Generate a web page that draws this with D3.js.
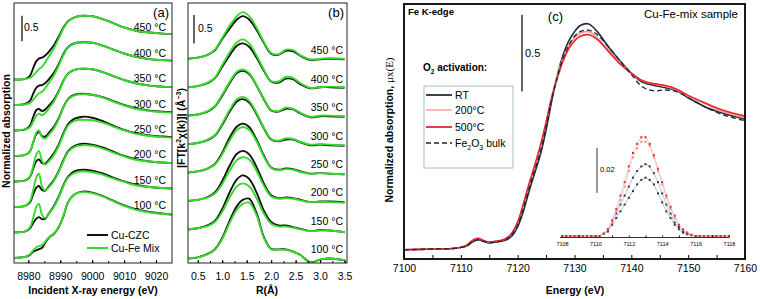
<!DOCTYPE html>
<html><head><meta charset="utf-8">
<script src="https://cdnjs.cloudflare.com/ajax/libs/d3/7.8.5/d3.min.js"></script>
<style>
body{margin:0;background:#fff}
svg{display:block}
text{font-family:"Liberation Sans",Arial,sans-serif;fill:#000}
</style>
</head><body>
<svg id="chart" width="760" height="299"></svg>
<script>
// ---------------- DATA ----------------
const temperatures = ["100 °C", "150 °C", "200 °C", "250 °C", "300 °C", "350 °C", "400 °C", "450 °C"];
const seriesAB = ["Cu-CZC", "Cu-Fe Mix"];

// (a) Cu K-edge XANES
const xanesEnergy = [8975.5, 8979, 8980.5, 8981.5, 8982.5, 8983.3, 8984.3, 8985.3, 8986.5, 8988, 8989.5, 8991, 8992.5, 8994.5, 8997, 9000, 9003, 9006, 9010, 9014, 9018, 9022, 9025];
const czcXanes = [
  [0, 0.02, 0.06, 0.12, 0.15, 0.17, 0.2, 0.3, 0.4, 0.47, 0.6, 0.82, 1.1, 1.25, 1.3, 1.28, 1.22, 1.14, 1.03, 0.95, 0.9, 0.87, 0.85],
  [0, 0.02, 0.08, 0.18, 0.27, 0.3, 0.26, 0.27, 0.38, 0.52, 0.7, 0.93, 1.1, 1.2, 1.23, 1.21, 1.16, 1.09, 1.0, 0.93, 0.89, 0.87, 0.86],
  [0, 0.02, 0.09, 0.24, 0.38, 0.41, 0.33, 0.32, 0.41, 0.53, 0.7, 0.92, 1.1, 1.2, 1.24, 1.22, 1.17, 1.1, 1.0, 0.93, 0.89, 0.87, 0.86],
  [0, 0.02, 0.09, 0.25, 0.4, 0.43, 0.36, 0.35, 0.43, 0.55, 0.72, 0.95, 1.13, 1.23, 1.27, 1.25, 1.19, 1.11, 1.01, 0.94, 0.9, 0.88, 0.87],
  [0, 0.02, 0.09, 0.26, 0.43, 0.47, 0.39, 0.38, 0.46, 0.57, 0.74, 0.96, 1.12, 1.2, 1.22, 1.2, 1.16, 1.09, 1.0, 0.93, 0.89, 0.87, 0.86],
  [0, 0.02, 0.09, 0.26, 0.4, 0.42, 0.38, 0.41, 0.49, 0.6, 0.77, 0.98, 1.12, 1.19, 1.21, 1.2, 1.15, 1.08, 0.99, 0.92, 0.88, 0.86, 0.85],
  [0, 0.02, 0.08, 0.22, 0.34, 0.38, 0.39, 0.43, 0.51, 0.63, 0.8, 1.0, 1.14, 1.21, 1.23, 1.22, 1.17, 1.1, 1.01, 0.94, 0.9, 0.88, 0.87],
  [0, 0.01, 0.07, 0.22, 0.36, 0.41, 0.43, 0.47, 0.55, 0.67, 0.84, 1.02, 1.15, 1.22, 1.25, 1.24, 1.19, 1.12, 1.02, 0.95, 0.92, 0.9, 0.89]
];
const mixXanes = [
  [0, 0.02, 0.07, 0.15, 0.21, 0.23, 0.25, 0.32, 0.41, 0.48, 0.61, 0.83, 1.1, 1.25, 1.29, 1.27, 1.21, 1.13, 1.02, 0.94, 0.89, 0.86, 0.85],
  [0, 0.02, 0.1, 0.28, 0.5, 0.56, 0.34, 0.28, 0.37, 0.5, 0.68, 0.91, 1.08, 1.17, 1.2, 1.18, 1.14, 1.07, 0.99, 0.92, 0.89, 0.87, 0.86],
  [0, 0.02, 0.11, 0.33, 0.58, 0.65, 0.4, 0.32, 0.39, 0.51, 0.68, 0.9, 1.08, 1.18, 1.21, 1.2, 1.15, 1.08, 0.99, 0.92, 0.89, 0.87, 0.86],
  [0, 0.02, 0.1, 0.3, 0.53, 0.6, 0.4, 0.33, 0.4, 0.52, 0.69, 0.92, 1.1, 1.19, 1.21, 1.2, 1.16, 1.09, 1.0, 0.93, 0.89, 0.87, 0.86],
  [0, 0.02, 0.09, 0.27, 0.46, 0.5, 0.37, 0.34, 0.42, 0.54, 0.72, 0.95, 1.11, 1.19, 1.21, 1.2, 1.15, 1.08, 0.99, 0.92, 0.88, 0.86, 0.85],
  [0, 0.02, 0.06, 0.17, 0.29, 0.33, 0.3, 0.34, 0.44, 0.57, 0.75, 0.97, 1.12, 1.19, 1.21, 1.2, 1.15, 1.08, 0.99, 0.92, 0.88, 0.86, 0.85],
  [0, 0.01, 0.04, 0.1, 0.18, 0.23, 0.26, 0.33, 0.44, 0.58, 0.77, 0.98, 1.13, 1.21, 1.23, 1.22, 1.17, 1.1, 1.01, 0.94, 0.9, 0.88, 0.87],
  [0, 0.01, 0.03, 0.08, 0.15, 0.2, 0.25, 0.34, 0.46, 0.61, 0.8, 1.0, 1.14, 1.22, 1.25, 1.24, 1.19, 1.12, 1.02, 0.95, 0.92, 0.9, 0.89]
];
const xanesTicks = [8980, 8990, 9000, 9010, 9020];

// (b) FT-EXAFS
const ftR = [0.3, 0.5, 0.7, 0.85, 1.0, 1.15, 1.3, 1.42, 1.55, 1.7, 1.85, 2.0, 2.15, 2.3, 2.45, 2.6, 2.8, 3.0, 3.2, 3.5];
const czcFT = [
  [0.04, 0.06, 0.12, 0.2, 0.4, 0.7, 0.96, 1.07, 1.09, 0.84, 0.42, 0.21, 0.2, 0.2, 0.16, 0.1, -0.03, 0.02, 0.04, 0.01],
  [0.05, 0.07, 0.12, 0.2, 0.41, 0.7, 0.93, 1.0, 0.94, 0.7, 0.38, 0.18, 0.12, 0.12, 0.09, 0.06, 0.02, 0.04, 0.03, 0.0],
  [0.05, 0.07, 0.12, 0.2, 0.4, 0.67, 0.88, 0.93, 0.87, 0.65, 0.36, 0.15, 0.1, 0.11, 0.1, 0.07, 0.03, 0.04, 0.04, 0.03],
  [0.05, 0.07, 0.12, 0.2, 0.4, 0.66, 0.86, 0.91, 0.85, 0.63, 0.35, 0.14, 0.1, 0.12, 0.11, 0.07, 0.03, 0.04, 0.03, 0.02],
  [0.05, 0.07, 0.12, 0.2, 0.39, 0.62, 0.8, 0.84, 0.78, 0.58, 0.33, 0.13, 0.1, 0.13, 0.13, 0.08, 0.03, 0.04, 0.03, 0.02],
  [0.05, 0.07, 0.12, 0.21, 0.4, 0.62, 0.8, 0.84, 0.78, 0.58, 0.34, 0.14, 0.12, 0.17, 0.16, 0.09, 0.02, 0.04, 0.04, 0.03],
  [0.05, 0.07, 0.12, 0.21, 0.41, 0.61, 0.78, 0.82, 0.76, 0.57, 0.34, 0.15, 0.13, 0.2, 0.19, 0.1, 0.03, 0.05, 0.05, 0.04],
  [0.05, 0.07, 0.12, 0.2, 0.4, 0.58, 0.74, 0.8, 0.74, 0.56, 0.33, 0.14, 0.12, 0.19, 0.18, 0.1, 0.03, 0.04, 0.05, 0.04]
];
const mixFT = [
  [0.04, 0.06, 0.11, 0.19, 0.38, 0.66, 0.9, 1.0, 1.02, 0.8, 0.4, 0.2, 0.2, 0.19, 0.16, 0.1, -0.04, 0.02, 0.04, 0.01],
  [0.05, 0.07, 0.11, 0.18, 0.36, 0.61, 0.81, 0.86, 0.81, 0.6, 0.33, 0.15, 0.1, 0.1, 0.08, 0.05, 0.02, 0.03, 0.03, 0.0],
  [0.05, 0.07, 0.11, 0.18, 0.35, 0.58, 0.77, 0.82, 0.78, 0.58, 0.32, 0.13, 0.09, 0.1, 0.09, 0.06, 0.03, 0.04, 0.03, 0.02],
  [0.05, 0.07, 0.12, 0.19, 0.37, 0.61, 0.8, 0.85, 0.8, 0.6, 0.33, 0.13, 0.09, 0.11, 0.1, 0.06, 0.03, 0.04, 0.03, 0.02],
  [0.05, 0.07, 0.13, 0.21, 0.41, 0.65, 0.84, 0.88, 0.81, 0.6, 0.34, 0.14, 0.11, 0.15, 0.14, 0.09, 0.04, 0.05, 0.04, 0.03],
  [0.05, 0.07, 0.13, 0.22, 0.42, 0.64, 0.82, 0.86, 0.8, 0.59, 0.35, 0.15, 0.13, 0.19, 0.17, 0.1, 0.03, 0.05, 0.05, 0.04],
  [0.05, 0.07, 0.13, 0.22, 0.44, 0.66, 0.84, 0.89, 0.82, 0.61, 0.36, 0.16, 0.15, 0.23, 0.21, 0.12, 0.04, 0.05, 0.06, 0.05],
  [0.05, 0.07, 0.12, 0.21, 0.42, 0.63, 0.8, 0.87, 0.8, 0.6, 0.35, 0.15, 0.13, 0.21, 0.2, 0.11, 0.04, 0.05, 0.06, 0.05]
];
const ftTicks = [0.5, 1.0, 1.5, 2.0, 2.5, 3.0, 3.5];

// (c) Fe K-edge XANES
const feSeries = ["RT", "200°C", "500°C", "Fe2O3 bulk"];
const feEnergy = [7100, 7105, 7109, 7111, 7112, 7113, 7114, 7115, 7116, 7117, 7118, 7119, 7120, 7121, 7122, 7123, 7124, 7125, 7126, 7127, 7128, 7129, 7130, 7131, 7132.5, 7134, 7136, 7138, 7140, 7142, 7144, 7146, 7148, 7150, 7153, 7156, 7160];
const feRT = [0.0, 0.005, 0.01, 0.025, 0.05, 0.065, 0.055, 0.045, 0.05, 0.055, 0.065, 0.09, 0.15, 0.25, 0.38, 0.5, 0.62, 0.78, 0.97, 1.14, 1.27, 1.36, 1.42, 1.46, 1.47, 1.42, 1.32, 1.23, 1.15, 1.09, 1.07, 1.055, 1.035, 0.99, 0.93, 0.89, 0.85];
const fe200 = [0.0, 0.005, 0.01, 0.03, 0.06, 0.075, 0.06, 0.05, 0.055, 0.06, 0.075, 0.11, 0.18, 0.29, 0.42, 0.54, 0.67, 0.83, 1.0, 1.14, 1.25, 1.33, 1.38, 1.41, 1.42, 1.38, 1.3, 1.22, 1.15, 1.1, 1.08, 1.065, 1.04, 1.0, 0.95, 0.9, 0.86];
const fe500 = [0.0, 0.005, 0.01, 0.03, 0.06, 0.075, 0.06, 0.05, 0.055, 0.06, 0.075, 0.11, 0.18, 0.3, 0.43, 0.55, 0.68, 0.83, 0.99, 1.12, 1.23, 1.31, 1.36, 1.39, 1.4, 1.37, 1.29, 1.21, 1.15, 1.1, 1.08, 1.07, 1.045, 1.005, 0.955, 0.91, 0.87];
const feBulk = [0.0, 0.005, 0.01, 0.025, 0.05, 0.065, 0.055, 0.045, 0.05, 0.055, 0.065, 0.1, 0.16, 0.27, 0.4, 0.52, 0.64, 0.8, 0.98, 1.13, 1.25, 1.33, 1.39, 1.42, 1.43, 1.4, 1.32, 1.23, 1.14, 1.06, 1.035, 1.04, 1.03, 0.99, 0.93, 0.88, 0.84];
const feTicks = [7100, 7110, 7120, 7130, 7140, 7150, 7160];

// (c) inset: pre-edge
const preEnergy = [7108, 7108.25, 7108.5, 7108.75, 7109, 7109.25, 7109.5, 7109.75, 7110, 7110.25, 7110.5, 7110.75, 7111, 7111.25, 7111.5, 7111.75, 7112, 7112.25, 7112.5, 7112.75, 7113, 7113.25, 7113.5, 7113.75, 7114, 7114.25, 7114.5, 7114.75, 7115, 7115.25, 7115.5, 7115.75, 7116, 7116.25, 7116.5, 7116.75, 7117, 7117.25, 7117.5, 7117.75, 7118];
const preRT = [0, 0, 0, 0, 0, 0, 0, 0, 0, 0, 0.001, 0.003, 0.006, 0.01, 0.014, 0.018, 0.022, 0.026, 0.029, 0.031, 0.032, 0.031, 0.028, 0.024, 0.019, 0.014, 0.01, 0.006, 0.004, 0.002, 0.001, 0.0005, 0, 0, 0, 0, 0, 0, 0, 0, 0];
const pre200 = [0, 0, 0, 0, 0, 0, 0, 0, 0, 0, 0.001, 0.003, 0.006, 0.011, 0.016, 0.022, 0.029, 0.035, 0.039, 0.042, 0.042, 0.04, 0.035, 0.029, 0.023, 0.017, 0.012, 0.008, 0.005, 0.003, 0.0015, 0.0005, 0, 0, 0, 0, 0, 0, 0, 0, 0];
const pre500 = [0, 0, 0, 0, 0, 0, 0, 0, 0, 0, 0.001, 0.003, 0.007, 0.012, 0.018, 0.024, 0.031, 0.037, 0.041, 0.044, 0.044, 0.041, 0.036, 0.03, 0.024, 0.018, 0.013, 0.009, 0.005, 0.003, 0.0015, 0.0005, 0, 0, 0, 0, 0, 0, 0, 0, 0];
const preBulk = [0, 0, 0, 0, 0, 0, 0, 0, 0, 0, 0.001, 0.002, 0.005, 0.008, 0.011, 0.014, 0.017, 0.02, 0.023, 0.025, 0.026, 0.025, 0.023, 0.019, 0.015, 0.011, 0.008, 0.005, 0.003, 0.0015, 0.0008, 0.0003, 0, 0, 0, 0, 0, 0, 0, 0, 0];
const preTicks = [7108, 7110, 7112, 7114, 7116, 7118];

const stackStep = 0.5;

// ---------------- DRAW ----------------
const svg = d3.select("#chart");
const BLACK = "#111", GREEN = "#36dc2a";
const cRT = "#22303f", c200 = "#f39a9a", c500 = "#e8262b", cBulk = "#1b2633";

const defs = svg.append("defs");
function clip(id, x, y, w, h){ defs.append("clipPath").attr("id", id).append("rect").attr("x", x).attr("y", y).attr("width", w).attr("height", h); }

// ===== Panel (a) =====
const xA = d3.scaleLinear().domain([8975.5, 9025]).range([14, 172]);
const yA = d3.scaleLinear().domain([-0.1, 5.0]).range([263, 3]);
clip("ca", 14, 3, 158, 260);
const gA = svg.append("g");
const lineA = d3.line().x(d => xA(d[0])).y(d => yA(d[1])).curve(d3.curveCatmullRom.alpha(0.5));
const curvesA = gA.append("g").attr("clip-path", "url(#ca)");
temperatures.forEach((t, i) => {
  const off = i * stackStep;
  curvesA.append("path").attr("d", lineA(xanesEnergy.map((e, j) => [e, czcXanes[i][j] + off])))
    .attr("fill", "none").attr("stroke", BLACK).attr("stroke-width", 1.9);
  curvesA.append("path").attr("d", lineA(xanesEnergy.map((e, j) => [e, mixXanes[i][j] + off])))
    .attr("fill", "none").attr("stroke", GREEN).attr("stroke-width", 1.9);
  gA.append("text").attr("x", 166).attr("y", yA(off + 0.95)).attr("text-anchor", "end")
    .attr("font-size", 10.5).text(t);
});
gA.append("rect").attr("x", 14).attr("y", 3).attr("width", 158).attr("height", 260)
  .attr("fill", "none").attr("stroke", "#222").attr("stroke-width", 1);
const axA = gA.append("g").attr("transform", "translate(0,263)")
  .call(d3.axisBottom(xA).tickValues(xanesTicks).tickFormat(d3.format("d")).tickSize(-3).tickPadding(10));
axA.select(".domain").remove();
axA.selectAll("text").attr("font-size", 10.5).attr("font-family", "Liberation Sans, Arial, sans-serif");
gA.append("g").attr("transform", "translate(0,263)")
  .call(d3.axisBottom(xA).tickValues(d3.range(8980, 9025, 5)).tickFormat("").tickSize(-2))
  .select(".domain").remove();
// scale bar
gA.append("line").attr("x1", 22).attr("x2", 22).attr("y1", yA(4.25)).attr("y2", yA(4.25 + stackStep))
  .attr("stroke", "#000").attr("stroke-width", 1.2);
gA.append("text").attr("x", 24).attr("y", 31).attr("font-size", 10.5).text("0.5");
gA.append("text").attr("x", 169).attr("y", 17).attr("text-anchor", "end").attr("font-size", 13).text("(a)");
gA.append("text").attr("transform", "translate(10,131) rotate(-90)").attr("text-anchor", "middle")
  .attr("font-size", 10.5).attr("font-weight", "bold").text("Normalized absorption");
gA.append("text").attr("x", 93).attr("y", 294).attr("text-anchor", "middle")
  .attr("font-size", 10.5).attr("font-weight", "bold").text("Incident X-ray energy (eV)");
// legend (a)
[[BLACK, seriesAB[0], 235], [GREEN, seriesAB[1], 248]].forEach(([c, s, y]) => {
  gA.append("line").attr("x1", 87).attr("x2", 108).attr("y1", y).attr("y2", y).attr("stroke", c).attr("stroke-width", 2);
  gA.append("text").attr("x", 111).attr("y", y + 4).attr("font-size", 10.5).text(s);
});

// ===== Panel (b) =====
const xB = d3.scaleLinear().domain([0.3, 3.55]).range([188, 347]);
const yB = d3.scaleLinear().domain([-0.04, 4.53]).range([263, 3]);
clip("cb", 188, 3, 159, 260);
const gB = svg.append("g");
const lineB = d3.line().x(d => xB(d[0])).y(d => yB(d[1])).curve(d3.curveCatmullRom.alpha(0.5));
const curvesB = gB.append("g").attr("clip-path", "url(#cb)");
temperatures.forEach((t, i) => {
  const off = i * stackStep;
  curvesB.append("path").attr("d", lineB(ftR.map((r, j) => [r, czcFT[i][j] + off])))
    .attr("fill", "none").attr("stroke", BLACK).attr("stroke-width", 1.9);
  curvesB.append("path").attr("d", lineB(ftR.map((r, j) => [r, mixFT[i][j] + off])))
    .attr("fill", "none").attr("stroke", GREEN).attr("stroke-width", 1.9);
  gB.append("text").attr("x", 343).attr("y", yB(off + 0.13)).attr("text-anchor", "end")
    .attr("font-size", 10.5).text(t);
});
gB.append("rect").attr("x", 188).attr("y", 3).attr("width", 159).attr("height", 260)
  .attr("fill", "none").attr("stroke", "#222").attr("stroke-width", 1);
const axB = gB.append("g").attr("transform", "translate(0,263)")
  .call(d3.axisBottom(xB).tickValues(ftTicks).tickFormat(d3.format(".1f")).tickSize(-3).tickPadding(10));
axB.select(".domain").remove();
axB.selectAll("text").attr("font-size", 10.5).attr("font-family", "Liberation Sans, Arial, sans-serif");
gB.append("g").attr("transform", "translate(0,263)")
  .call(d3.axisBottom(xB).tickValues(d3.range(0.5, 3.51, 0.25)).tickFormat("").tickSize(-2))
  .select(".domain").remove();
gB.append("line").attr("x1", 194).attr("x2", 194).attr("y1", yB(3.82)).attr("y2", yB(3.82 + stackStep))
  .attr("stroke", "#000").attr("stroke-width", 1.2);
gB.append("text").attr("x", 198).attr("y", 32).attr("font-size", 10.5).text("0.5");
gB.append("text").attr("x", 344).attr("y", 17).attr("text-anchor", "end").attr("font-size", 13).text("(b)");
const yTitleB = gB.append("text").attr("transform", "translate(185,128) rotate(-90)").attr("text-anchor", "middle")
  .attr("font-size", 10.5).attr("font-weight", "bold");
yTitleB.append("tspan").text("|FT[k");
yTitleB.append("tspan").attr("font-size", 7).attr("dy", -4).text("2");
yTitleB.append("tspan").attr("dy", 4).text("χ(k)]| (Å");
yTitleB.append("tspan").attr("font-size", 7).attr("dy", -4).text("−3");
yTitleB.append("tspan").attr("dy", 4).text(")");
gB.append("text").attr("x", 267).attr("y", 294).attr("text-anchor", "middle")
  .attr("font-size", 10.5).attr("font-weight", "bold").text("R(Å)");

// ===== Panel (c) =====
const xC = d3.scaleLinear().domain([7100, 7160]).range([404, 745]);
const yC = d3.scaleLinear().domain([-0.06, 1.6]).range([259, 4]);
clip("cc", 404, 4, 341, 255);
const gC = svg.append("g");
const lineC = d3.line().x(d => xC(d[0])).y(d => yC(d[1])).curve(d3.curveCatmullRom.alpha(0.5));
const curvesC = gC.append("g").attr("clip-path", "url(#cc)");
const feData = [
  [feRT, cRT, 1.6, null],
  [fe200, c200, 1.6, null],
  [fe500, c500, 1.6, null],
  [feBulk, cBulk, 1.3, "5,3"]
];
feData.forEach(([vals, col, w, dash]) => {
  curvesC.append("path").attr("d", lineC(feEnergy.map((e, j) => [e, vals[j]])))
    .attr("fill", "none").attr("stroke", col).attr("stroke-width", w).attr("stroke-dasharray", dash);
});
gC.append("rect").attr("x", 404).attr("y", 4).attr("width", 341).attr("height", 255)
  .attr("fill", "none").attr("stroke", "#000").attr("stroke-width", 1.8);
const axC = gC.append("g").attr("transform", "translate(0,259)")
  .call(d3.axisBottom(xC).tickValues(feTicks).tickFormat(d3.format("d")).tickSize(-4).tickPadding(6));
axC.select(".domain").remove();
axC.selectAll("text").attr("font-size", 10.5).attr("font-family", "Liberation Sans, Arial, sans-serif");
gC.append("g").attr("transform", "translate(0,259)")
  .call(d3.axisBottom(xC).tickValues(d3.range(7105, 7160, 10)).tickFormat("").tickSize(-4))
  .select(".domain").remove();
gC.append("text").attr("x", 575).attr("y", 294).attr("text-anchor", "middle")
  .attr("font-size", 10.5).attr("font-weight", "bold").text("Energy (eV)");
const yTitleC = gC.append("text").attr("transform", "translate(393,130) rotate(-90)").attr("text-anchor", "middle")
  .attr("font-size", 10.5).attr("font-weight", "bold");
yTitleC.append("tspan").text("Normalized absorption,  ");
yTitleC.append("tspan").attr("font-family", "Liberation Serif, serif").attr("font-weight", "normal").attr("font-size", 11).text("μx(E)");
gC.append("text").attr("x", 408).attr("y", 15).attr("font-size", 9.5).attr("font-weight", "bold").text("Fe K-edge");
gC.append("text").attr("x", 563).attr("y", 21).attr("text-anchor", "end").attr("font-size", 13).text("(c)");
gC.append("text").attr("x", 738).attr("y", 18).attr("text-anchor", "end").attr("font-size", 11.5)
  .attr("font-family", "Open Sans, Liberation Sans, sans-serif").text("Cu-Fe-mix sample");
// scale bar 0.5
gC.append("line").attr("x1", 522).attr("x2", 522).attr("y1", yC(1.03)).attr("y2", yC(1.03 + 0.5))
  .attr("stroke", "#000").attr("stroke-width", 1.2);
gC.append("text").attr("x", 525).attr("y", 57).attr("font-size", 11).text("0.5");
// O2 activation legend
const o2 = gC.append("text").attr("x", 423).attr("y", 71).attr("font-size", 10).attr("font-weight", "bold");
o2.append("tspan").text("O");
o2.append("tspan").attr("font-size", 6.5).attr("dy", 3).text("2");
o2.append("tspan").attr("dy", -3).text(" activation:");
gC.append("rect").attr("x", 424).attr("y", 86).attr("width", 89).attr("height", 82)
  .attr("fill", "#fff").attr("stroke", "#a9bfc3").attr("stroke-width", 1);
const legC = [[cRT, 95, null, 1.8], [c200, 110, null, 1.4], [c500, 127, null, 1.8], [cBulk, 143, "5,3", 1.4]];
legC.forEach(([col, y, dash, w], k) => {
  gC.append("line").attr("x1", 426).attr("x2", 452).attr("y1", y).attr("y2", y)
    .attr("stroke", col).attr("stroke-width", w).attr("stroke-dasharray", dash);
  const t = gC.append("text").attr("x", 455).attr("y", y + 4).attr("font-size", 10.5);
  if (k === 3) {
    t.append("tspan").text("Fe");
    t.append("tspan").attr("font-size", 7).attr("dy", 3).text("2");
    t.append("tspan").attr("dy", -3).text("O");
    t.append("tspan").attr("font-size", 7).attr("dy", 3).text("3");
    t.append("tspan").attr("dy", -3).text(" bulk");
  } else {
    t.text(feSeries[k]);
  }
});

// ===== Inset =====
const xI = d3.scaleLinear().domain([7108, 7118]).range([562, 729]);
const yI = d3.scaleLinear().domain([0, 0.045]).range([236, 135]);
const gI = svg.append("g");
const lineI = d3.line().x(d => xI(d[0])).y(d => yI(d[1]));
const insetData = [[preBulk, "#2a3645", "#9aa6b4"], [preRT, "#2a3a52", "#9aa8ba"], [pre200, "#f08a8a", "#f6c4c4"], [pre500, "#e82a30", "#f4a8aa"]];
insetData.forEach(([vals, col, lc]) => {
  const pts = preEnergy.map((e, j) => [e, vals[j]]);
  gI.append("path").attr("d", lineI(pts)).attr("fill", "none").attr("stroke", lc).attr("stroke-width", 0.7);
  gI.selectAll(null).data(pts).enter().append("rect")
    .attr("x", d => xI(d[0]) - 1).attr("y", d => yI(d[1]) - 1).attr("width", 2).attr("height", 2).attr("fill", col);
});
gI.append("line").attr("x1", 560).attr("x2", 729).attr("y1", 237.5).attr("y2", 237.5).attr("stroke", "#333").attr("stroke-width", 1);
const axI = gI.append("g").attr("transform", "translate(0,237.5)")
  .call(d3.axisBottom(xI).tickValues(preTicks).tickFormat(d3.format("d")).tickSize(-2).tickPadding(5));
axI.select(".domain").remove();
axI.selectAll("text").attr("font-size", 5.5).attr("fill", "#2c3a4a").attr("font-family", "Liberation Sans, Arial, sans-serif");
axI.selectAll("line").attr("stroke", "#333");
gI.append("g").attr("transform", "translate(0,237.5)")
  .call(d3.axisBottom(xI).tickValues(d3.range(7109, 7118, 2)).tickFormat("").tickSize(-2))
  .select(".domain").remove();
gI.append("line").attr("x1", 597).attr("x2", 597).attr("y1", yI(0.0192)).attr("y2", yI(0.0392))
  .attr("stroke", "#333").attr("stroke-width", 1);
gI.append("text").attr("x", 600).attr("y", 172).attr("font-size", 7.5).text("0.02");
</script>
</body></html>
